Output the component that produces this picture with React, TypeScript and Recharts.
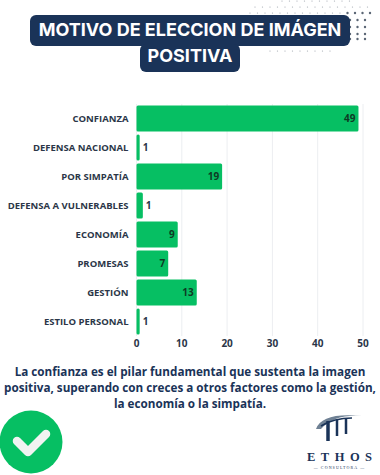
import { BarChart, Bar, XAxis, YAxis, CartesianGrid, LabelList, Cell } from "recharts";

const categories = [
  "CONFIANZA",
  "DEFENSA NACIONAL",
  "POR SIMPATÍA",
  "DEFENSA A VULNERABLES",
  "ECONOMÍA",
  "PROMESAS",
  "GESTIÓN",
  "ESTILO PERSONAL",
];
const values = [49, 0.7, 18.9, 1.4, 9.1, 7, 13.3, 0.7];
const valueLabels = ["49", "1", "19", "1", "9", "7", "13", "1"];
const xTicks = [0, 10, 20, 30, 40, 50];
const data = categories.map((name, i) => ({ name, value: values[i], label: valueLabels[i] }));

const NAVY = "#1a3358";
const GREEN = "#06bf63";
const LABEL_FONT = "'Open Sans', 'Noto Sans', sans-serif";

// dot pattern behind the title: row y, first x, last x
const dotRows = [
  [1, 282, 350],
  [7, 255, 372],
  [13, 250, 372],
  [20, 350, 372],
  [27, 350, 372],
  [34, 350, 372],
  [39, 350, 365],
  [51, 270, 330],
];

function ValueLabel(props: any) {
  const { x, y, width, height, index } = props;
  const outside = values[index] < 3;
  return (
    <text
      x={outside ? x + width + 3 : x + width - 3}
      y={y + height / 2}
      dy="0.35em"
      textAnchor={outside ? "start" : "end"}
      fontFamily={LABEL_FONT}
      fontWeight={700}
      fontSize={10}
      fill={outside ? "#2b3648" : "#0e3a24"}
    >
      {valueLabels[index]}
    </text>
  );
}

function CategoryTick(props: any) {
  const { x, y, payload } = props;
  return (
    <text
      x={x}
      y={y}
      dy="0.35em"
      textAnchor="end"
      fontFamily={LABEL_FONT}
      fontWeight={700}
      fontSize={9.5}
      fill="#2b3648"
    >
      {payload.value}
    </text>
  );
}

function Decoration() {
  const dots: any[] = [];
  dotRows.forEach(([y, from, to]) => {
    for (let x = from; x <= to; x += 7.5) {
      const near = x > 345 && y > 10 && y < 42;
      dots.push(
        <circle key={`${x}-${y}`} cx={x} cy={y} r={near ? 1.2 : 0.6} fill="#3d4a5c" opacity={near ? 0.85 : 0.5} />
      );
    }
  });
  return (
    <svg width={380} height={475} style={{ position: "absolute", left: 0, top: 0 }}>
      {dots}
      <circle cx={31} cy={442} r={31.5} fill={GREEN} />
      <path d="M17 441 L28 452 L46 434" fill="none" stroke="#f1f3f2" strokeWidth={8.5} strokeLinecap="round" strokeLinejoin="round" />
      <path d="M316 429 Q322 412 362 416 Q334 414 321 429 Z" fill="#6f8194" />
      <path d="M321 426 Q334 418 352 418" stroke={NAVY} strokeWidth={1.5} fill="none" />
      <path d="M328 441 V421" stroke={NAVY} strokeWidth={3.5} fill="none" />
      <path d="M337 436 V420" stroke={NAVY} strokeWidth={2.5} fill="none" />
      <path d="M346 434 V419" stroke={NAVY} strokeWidth={2.5} fill="none" />
      <text x={307} y={461} fontFamily="'Liberation Serif', serif" fontSize={12.5} fontWeight={700} fill={NAVY} letterSpacing={5.5}>
        ETHOS
      </text>
      <text x={339.5} y={469} textAnchor="middle" fontFamily="'Liberation Serif', serif" fontSize={4} fill={NAVY} letterSpacing={1.1}>
        — CONSULTORA —
      </text>
    </svg>
  );
}

export default function App() {
  return (
    <div style={{ position: "absolute", left: 0, top: 0, width: 380, height: 475, overflow: "hidden", background: "#ffffff" }}>
      <Decoration />
      <div style={{ position: "absolute", left: 30, top: 15, width: 320, height: 31, background: NAVY, borderRadius: 6 }} />
      <div style={{ position: "absolute", left: 140, top: 44, width: 100, height: 28, background: NAVY, borderRadius: 6 }} />
      <div
        style={{
          position: "absolute",
          left: 0,
          top: 17,
          width: 380,
          textAlign: "center",
          color: "#ffffff",
          fontFamily: "Inter, sans-serif",
          fontWeight: 700,
          fontSize: 18,
          lineHeight: "26px",
          whiteSpace: "nowrap",
        }}
      >
        MOTIVO DE ELECCION DE IMÁGEN
        <br />
        POSITIVA
      </div>
      <div style={{ position: "absolute", left: 0, top: 103.5 }}>
        <BarChart
          layout="vertical"
          width={380}
          height={250}
          data={data}
          barCategoryGap={1.5}
          margin={{ top: 0, right: 17, bottom: 0, left: 0 }}
        >
          <CartesianGrid horizontal={false} stroke="#eceef1" strokeWidth={1} />
          <XAxis
            type="number"
            domain={[0, 50]}
            ticks={xTicks}
            axisLine={false}
            tickLine={false}
            interval={0}
            height={18}
            tickMargin={0}
            tick={{ fontSize: 10, fontWeight: 700, fill: "#2b3648", fontFamily: LABEL_FONT, dy: -2 }}
          />
          <YAxis
            type="category"
            dataKey="name"
            width={136.5}
            axisLine={false}
            tickLine={false}
            interval={0}
            tickMargin={2}
            tick={<CategoryTick />}
          />
          <Bar dataKey="value" isAnimationActive={false} radius={1.5} fill={GREEN}>
            {data.map((d) => (
              <Cell key={d.name} fill={GREEN} />
            ))}
            <LabelList dataKey="label" content={<ValueLabel />} />
          </Bar>
        </BarChart>
      </div>
      <div
        style={{
          position: "absolute",
          left: 0,
          top: 363,
          width: 380,
          textAlign: "center",
          color: NAVY,
          fontFamily: LABEL_FONT,
          fontWeight: 700,
          fontSize: 11.7,
          lineHeight: "16px",
          whiteSpace: "nowrap",
        }}
      >
        La confianza es el pilar fundamental que sustenta la imagen
        <br />
        positiva, superando con creces a otros factores como la gestión,
        <br />
        la economía o la simpatía.
      </div>
    </div>
  );
}
